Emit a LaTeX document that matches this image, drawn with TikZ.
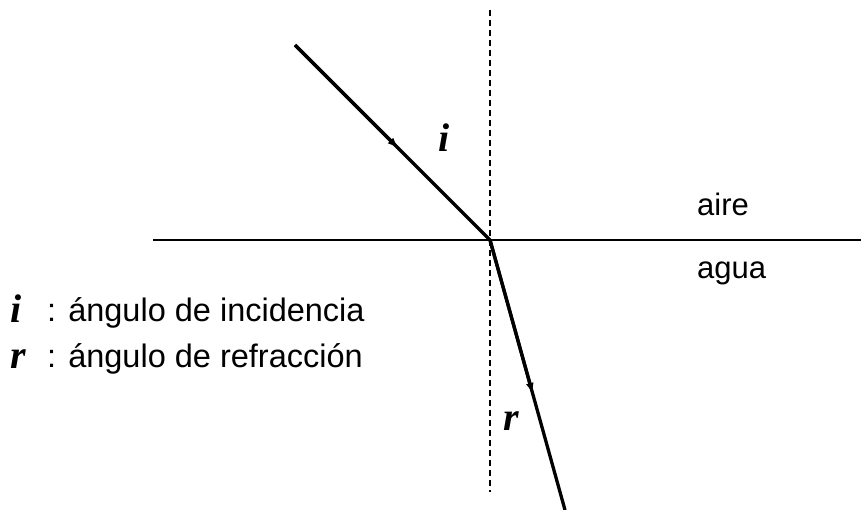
\documentclass[tikz,border=0pt]{standalone}
\usepackage{fontspec}
\setmainfont{Liberation Sans}
\newfontfamily\timesfont{Liberation Serif}
\usetikzlibrary{calc,arrows.meta}

\tikzset{
  rayo/.style={line width=3.3pt},
  flecha/.style={line width=3.3pt, -{Latex[length=11pt,width=8pt]}},
  normal/.style={line width=1.2pt, dash pattern=on 6pt off 4pt},
  texto/.style={anchor=base west, inner sep=0pt, font=\fontsize{32.5}{38}\selectfont},
  medio/.style={anchor=base west, inner sep=0pt, font=\fontsize{31}{36}\selectfont},
  angulo/.style={anchor=base west, inner sep=0pt, font=\timesfont\bfseries\itshape\fontsize{40}{44}\selectfont}
}

\begin{document}
\begin{tikzpicture}[x=1pt, y=-1pt]
    \useasboundingbox (0,0) rectangle (861,510);

    % puntos
    \coordinate (O) at (490,240);
    \coordinate (fuente) at (295,45);
    \coordinate (fin) at (565,510);
    \coordinate (izq) at (153,240);
    \coordinate (der) at (861,240);
    \coordinate (arriba) at (490,10);
    \coordinate (abajo) at (490,492);

    % superficie y normal
    \draw[line width=2pt] (izq) -- (der);
    \draw[normal] (arriba) -- (abajo);

    % rayos
    \draw[rayo] (fuente) -- (O);
    \draw[flecha] (fuente) -- ($(fuente)!0.53!(O)$);
    \draw[rayo] (O) -- (fin);
    \draw[flecha] (O) -- ($(O)!0.57!(fin)$);

    % angulos
    \node[angulo] (i) at (438,152) {i};
    \node[angulo] (r) at (503,430) {r};

    % medios
    \node[medio] (aire) at (697,216) {aire};
    \node[medio] (agua) at (697,279) {agua};

    % leyenda
    \node[angulo] (li) at (10,322) {i};
    \node[texto] (ti) at (47,321) {: ángulo de incidencia};
    \node[angulo] (lr) at (10,368) {r};
    \node[texto] (tr) at (47,367) {: ángulo de refracción};
\end{tikzpicture}
\end{document}
